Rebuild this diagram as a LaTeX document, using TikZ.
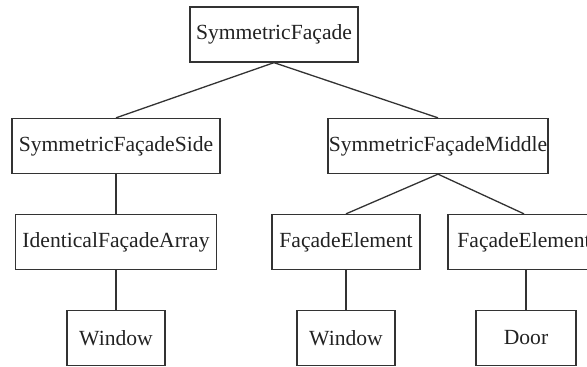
\documentclass[tikz,border=0pt]{standalone}
\usepackage{fontspec}
\setmainfont{Liberation Serif}
\definecolor{inkline}{HTML}{333333}
\definecolor{inktext}{HTML}{222222}
\tikzset{
  x=1pt, y=-1pt,
  box/.style={draw=inkline, line width=1.3pt, rectangle, inner sep=0pt,
    minimum height=55pt, text=inktext, font=\fontsize{21.6}{24}\selectfont},
  link/.style={draw=inkline, line width=1.3pt},
}
\begin{document}
\begin{tikzpicture}
  \useasboundingbox (0,0) rectangle (587,367);
  % level 1
  \node[box, minimum width=168pt] (root)  at (274,34.5) {SymmetricFaçade};
  % level 2
  \node[box, minimum width=208pt] (side)  at (116,146) {SymmetricFaçadeSide};
  \node[box, minimum width=220pt] (mid)   at (438,146) {SymmetricFaçadeMiddle};
  % level 3
  \node[box, minimum width=201pt] (arr)   at (116,242) {IdenticalFaçadeArray};
  \node[box, minimum width=148pt] (elA)   at (346,242) {FaçadeElement};
  \node[box, minimum width=152pt] (elB)   at (524,242) {FaçadeElement};
  % level 4
  \node[box, minimum width=98pt]  (winA)  at (116,338) {Window};
  \node[box, minimum width=98pt]  (winB)  at (346,338) {Window};
  \node[box, minimum width=100pt] (door)  at (526,338) {Door};
  % connectors
  \draw[link] (root.south) -- (side.north);
  \draw[link] (root.south) -- (mid.north);
  \draw[link] (side.south) -- (arr.north);
  \draw[link] (mid.south) -- (elA.north);
  \draw[link] (mid.south) -- (elB.north);
  \draw[link] (arr.south) -- (winA.north);
  \draw[link] (elA.south) -- (winB.north);
  \draw[link] (door.north |- elB.south) -- (door.north);
\end{tikzpicture}
\end{document}
